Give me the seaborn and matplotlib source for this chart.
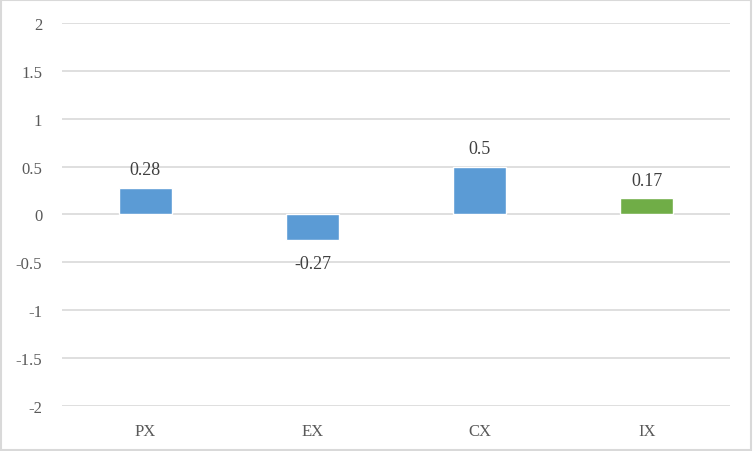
import seaborn as sns
import pandas as pd
import matplotlib.pyplot as plt
from matplotlib.patches import Rectangle

# 数据
categories = ['PX', 'EX', 'CX', 'IX']
values = [0.28, -0.27, 0.5, 0.17]
bar_colors = ['#5B9BD5', '#5B9BD5', '#5B9BD5', '#70AD47']
y_ticks = [-2, -1.5, -1, -0.5, 0, 0.5, 1, 1.5, 2]
y_tick_labels = ['-2', '-1.5', '-1', '-0.5', '0', '0.5', '1', '1.5', '2']

sns.set_style('white')
plt.rcParams['font.family'] = ['Liberation Serif', 'DejaVu Serif']

df = pd.DataFrame({'cat': categories, 'val': values})

fig = plt.figure(figsize=(7.53, 4.52), dpi=100)
ax = fig.add_axes([0.082, 0.0996, 0.888, 0.8474])

sns.barplot(x='cat', y='val', data=df, hue='cat', palette=bar_colors,
            legend=False, width=0.317, saturation=1, ax=ax, zorder=3)

ax.set_ylim(-2, 2)
ax.set_xlim(-0.5, 3.5)
ax.set_yticks(y_ticks)
ax.set_yticklabels(y_tick_labels)
ax.yaxis.grid(True, color='#D9D9D9', linewidth=1.2, zorder=0)
ax.set_axisbelow(True)
for s in ax.spines.values():
    s.set_visible(False)
ax.tick_params(axis='both', length=0, labelsize=12, colors='#595959')
ax.tick_params(axis='y', pad=14)
ax.tick_params(axis='x', pad=12)
ax.set_xlabel('')
ax.set_ylabel('')

# 数据标签
for i, v in enumerate(values):
    if v >= 0:
        ax.text(i, v + 0.1, str(v), ha='center', va='bottom', fontsize=13, color='#404040')
    else:
        ax.text(i, v - 0.15, str(v), ha='center', va='top', fontsize=13, color='#404040')

# 外边框
fig.patches.append(Rectangle((0.001, 0.002), 0.997, 0.995, transform=fig.transFigure,
                             fill=False, edgecolor='#D9D9D9', linewidth=1.5))

fig.savefig('out.png', dpi=100)
